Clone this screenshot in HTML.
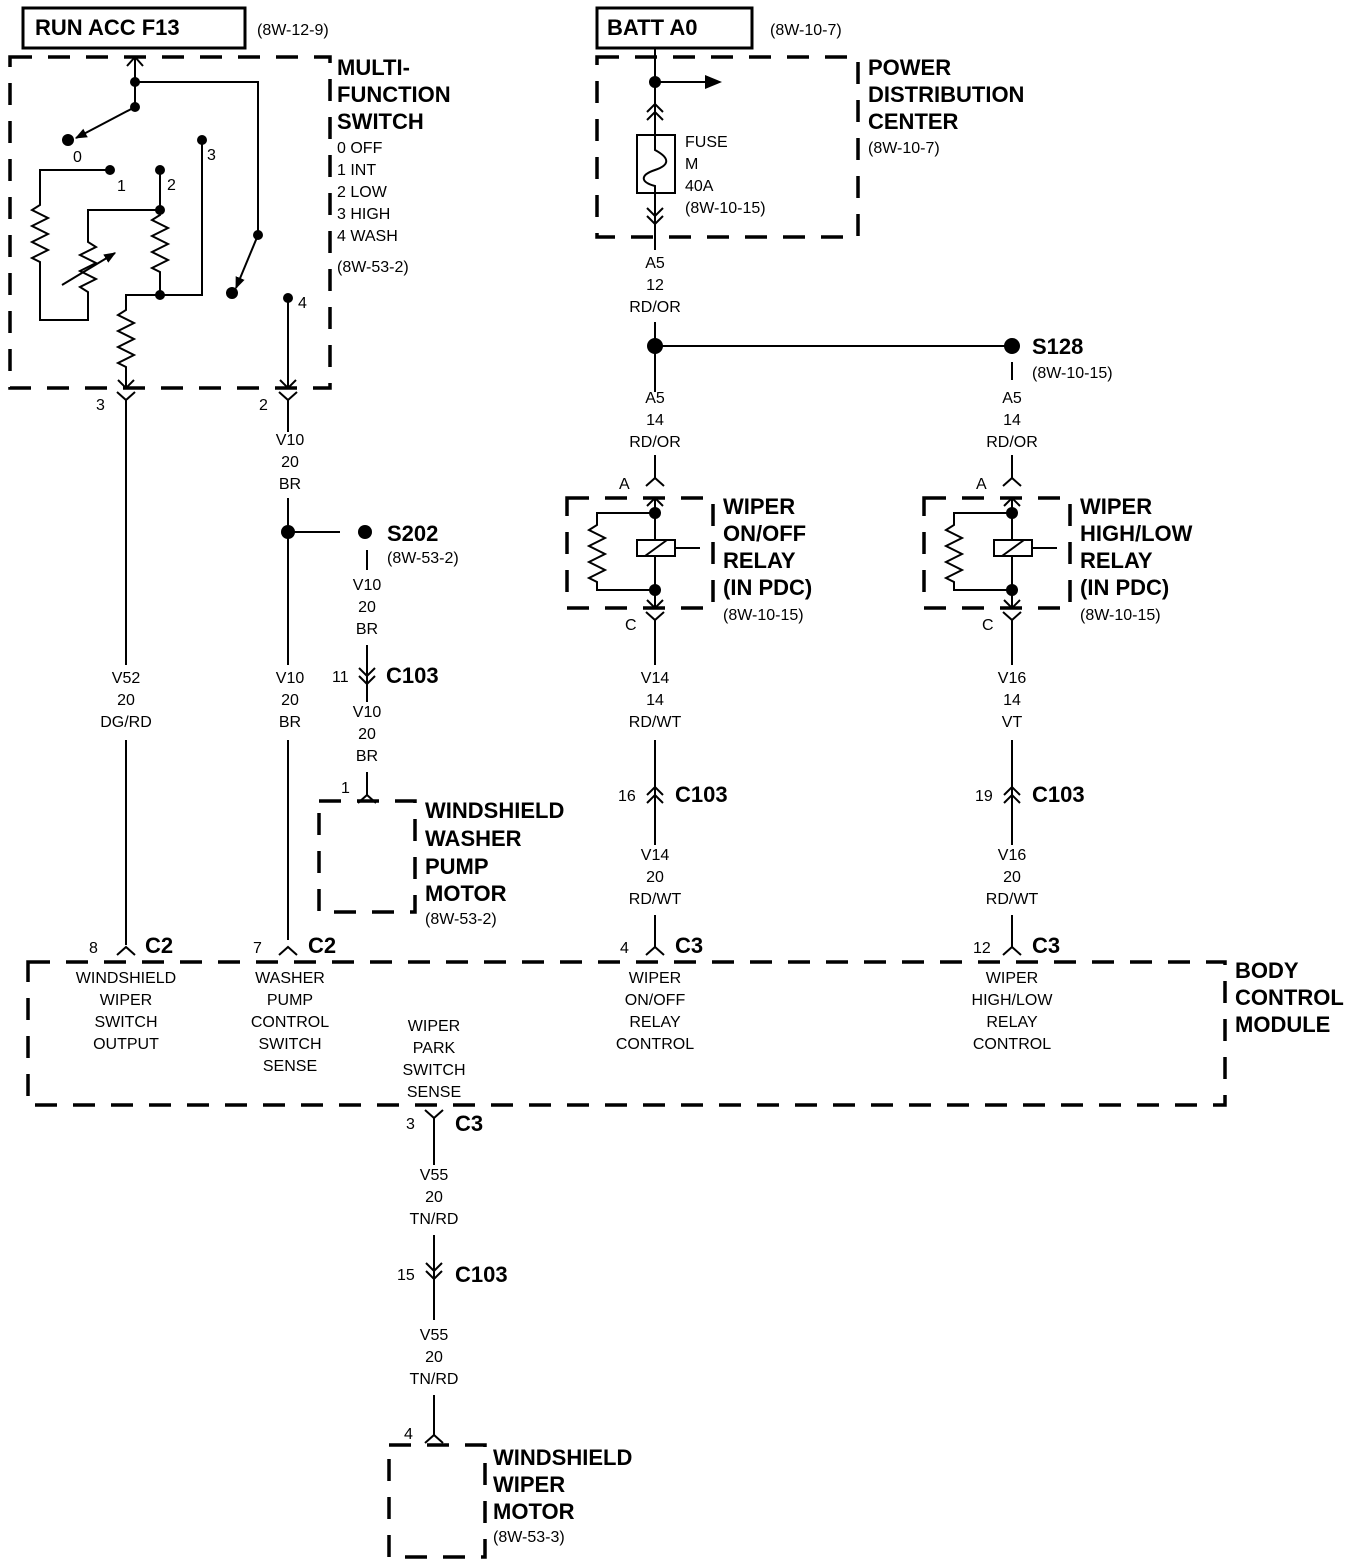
<!DOCTYPE html>
<html><head><meta charset="utf-8"><style>
html,body{margin:0;padding:0;background:#fff}
svg{display:block}
text{font-family:"Liberation Sans",sans-serif;fill:#000}
.s{font-size:16px}
.b{font-size:22px;font-weight:bold}
.m{text-anchor:middle}
</style></head><body>
<svg width="1360" height="1566" viewBox="0 0 1360 1566" xmlns="http://www.w3.org/2000/svg">
<defs>
<g id="Y"><path d="M-9,-8 L0,0 L9,-8" fill="none" stroke="#000" stroke-width="2"/></g>
<g id="L"><path d="M-9,8 L0,0 L9,8" fill="none" stroke="#000" stroke-width="2"/></g>
<marker id="ar" viewBox="0 0 10 10" refX="9" refY="5" markerWidth="6" markerHeight="6" orient="auto" markerUnits="strokeWidth"><path d="M0,1 L10,5 L0,9 Z" fill="#000"/></marker>
</defs>
<g fill="none" stroke="#000" stroke-width="2">
<rect x="23" y="8" width="222" height="40" stroke-width="3"/>
<rect x="597" y="8" width="155" height="40" stroke-width="3"/>
<g stroke-width="3.5" stroke-dasharray="22,16">
<rect x="10" y="57" width="320" height="331"/>
<rect x="597" y="57" width="261" height="180"/>
<rect x="567" y="498" width="146" height="110"/>
<rect x="924" y="498" width="146" height="110"/>
<rect x="319" y="801" width="96" height="111"/>
<rect x="28" y="962" width="1197" height="143"/>
<rect x="389" y="1445" width="96" height="112"/>
</g>
<path d="M135,57 V107"/><path d="M127,66 L135,57 L143,66"/>
<path d="M135,82 H258 V235"/>
<path d="M135,107 L76,138" marker-end="url(#ar)"/><path d="M258,235 L236,288" marker-end="url(#ar)"/>
<path d="M110,170 H40 V205 l-8,5 16,8 -16,8 16,8 -16,8 16,8 -16,8 8,4 V320 H88 V292 l-8,-5 16,-8 -16,-8 16,-8 -16,-8 16,-8 -8,-5 V210 H160"/>
<path d="M62,285 L115,253" marker-end="url(#ar)"/>
<path d="M160,170 V210 V215 l-8,5 16,8 -16,8 16,8 -16,8 16,8 -16,8 8,4 V295 H202 V140"/>
<path d="M160,295 H126 V310 l-8,5 16,8 -16,8 16,8 -16,8 16,8 -16,8 8,4 V388"/>
<path d="M118,380 L126,388 L134,380"/>
<path d="M288,298 V388"/><path d="M280,380 L288,388 L296,380"/>
<path d="M126,400 V665"/><path d="M126,740 V945"/><use href="#Y" x="126" y="400"/>
<path d="M288,400 V432"/><use href="#Y" x="288" y="400"/>
<path d="M288,498 V665"/><path d="M288,740 V940"/>
<path d="M288,532 H340"/>
<path d="M367,550 V570"/><path d="M367,645 V690"/>
<path d="M359,668 L367,676 L375,668"/><path d="M359,676 L367,684 L375,676"/>
<path d="M367,684 V702"/>
<path d="M367,772 V795"/><use href="#L" x="367" y="795"/>
<use href="#L" x="126" y="947"/><use href="#L" x="288" y="947"/>
<use href="#L" x="655" y="947"/><use href="#L" x="1012" y="947"/>
<path d="M655,48 V135"/><path d="M655,82 H705"/>
<path d="M647,112 L655,104 L663,112"/><path d="M647,120 L655,112 L663,120"/>
<rect x="637" y="135" width="38" height="58"/>
<path d="M655,135 V150 C670,158 670,165 655,170 C640,175 640,182 655,186 V193"/>
<path d="M655,193 V250"/>
<path d="M647,208 L655,216 L663,208"/><path d="M647,216 L655,224 L663,216"/>
<path d="M655,322 V392"/><path d="M655,346 H1012"/>
<path d="M1012,362 V380"/>
<path d="M655,455 V478"/><use href="#L" x="655" y="478"/>
<path d="M1012,455 V478"/><use href="#L" x="1012" y="478"/>
<g id="relay">
<path d="M655,498 V608"/><path d="M647,506 L655,498 L663,506"/><path d="M647,600 L655,608 L663,600"/>
<path d="M655,513 H597 V525 l-8,5 16,8 -16,8 16,8 -16,8 16,8 -16,8 8,4 V590 H655"/>
<rect x="637" y="540" width="38" height="16" fill="#fff"/>
<path d="M645,556 L667,540"/><path d="M675,548 H700"/>
<path d="M655,620 V665"/><use href="#Y" x="655" y="620"/>
<path d="M655,740 V845"/>
<path d="M647,795 L655,787 L663,795"/><path d="M647,803 L655,795 L663,803"/>
<path d="M655,915 V947"/>
</g>
<use href="#relay" x="357"/>
<path d="M434,1118 V1165"/><use href="#Y" x="434" y="1118"/>
<path d="M434,1235 V1320"/>
<path d="M426,1263 L434,1271 L442,1263"/><path d="M426,1271 L434,1279 L442,1271"/>
<path d="M434,1395 V1435"/><use href="#L" x="434" y="1435"/>
</g>
<path d="M705,75 L722,82 L705,89 Z"/>
<g fill="#000">
<circle cx="135" cy="82" r="5"/><circle cx="135" cy="107" r="5"/>
<circle cx="68" cy="140" r="6"/><circle cx="110" cy="170" r="5"/>
<circle cx="160" cy="170" r="5"/><circle cx="202" cy="140" r="5"/>
<circle cx="160" cy="210" r="5"/><circle cx="160" cy="295" r="5"/>
<circle cx="258" cy="235" r="5"/><circle cx="232" cy="293" r="6"/>
<circle cx="288" cy="298" r="5"/>
<circle cx="288" cy="532" r="7"/><circle cx="365" cy="532" r="7"/>
<circle cx="655" cy="82" r="6"/>
<circle cx="655" cy="346" r="8"/><circle cx="1012" cy="346" r="8"/>
<circle cx="655" cy="513" r="6"/><circle cx="655" cy="590" r="6"/>
<circle cx="1012" cy="513" r="6"/><circle cx="1012" cy="590" r="6"/>
</g>
<text class="b" x="35" y="35">RUN ACC F13</text>
<text class="s" x="257" y="35">(8W-12-9)</text>
<text class="b" x="607" y="35">BATT A0</text>
<text class="s" x="770" y="35">(8W-10-7)</text>
<g class="b"><text x="337" y="75">MULTI-</text><text x="337" y="102">FUNCTION</text><text x="337" y="129">SWITCH</text></g>
<g class="s"><text x="337" y="153">0 OFF</text><text x="337" y="175">1 INT</text><text x="337" y="197">2 LOW</text><text x="337" y="219">3 HIGH</text><text x="337" y="241">4 WASH</text><text x="337" y="272">(8W-53-2)</text>
<text x="73" y="162">0</text><text x="117" y="191">1</text><text x="167" y="190">2</text><text x="207" y="160">3</text><text x="298" y="308">4</text>
<text x="96" y="410">3</text><text x="259" y="410">2</text></g>
<g class="s m">
<text x="290" y="445">V10</text><text x="290" y="467">20</text><text x="290" y="489">BR</text>
<text x="126" y="683">V52</text><text x="126" y="705">20</text><text x="126" y="727">DG/RD</text>
<text x="290" y="683">V10</text><text x="290" y="705">20</text><text x="290" y="727">BR</text>
<text x="367" y="590">V10</text><text x="367" y="612">20</text><text x="367" y="634">BR</text>
<text x="367" y="717">V10</text><text x="367" y="739">20</text><text x="367" y="761">BR</text>
<text x="655" y="268">A5</text><text x="655" y="290">12</text><text x="655" y="312">RD/OR</text>
<text x="655" y="403">A5</text><text x="655" y="425">14</text><text x="655" y="447">RD/OR</text>
<text x="1012" y="403">A5</text><text x="1012" y="425">14</text><text x="1012" y="447">RD/OR</text>
<text x="655" y="683">V14</text><text x="655" y="705">14</text><text x="655" y="727">RD/WT</text>
<text x="1012" y="683">V16</text><text x="1012" y="705">14</text><text x="1012" y="727">VT</text>
<text x="655" y="860">V14</text><text x="655" y="882">20</text><text x="655" y="904">RD/WT</text>
<text x="1012" y="860">V16</text><text x="1012" y="882">20</text><text x="1012" y="904">RD/WT</text>
<text x="434" y="1180">V55</text><text x="434" y="1202">20</text><text x="434" y="1224">TN/RD</text>
<text x="434" y="1340">V55</text><text x="434" y="1362">20</text><text x="434" y="1384">TN/RD</text>
<text x="126" y="983">WINDSHIELD</text><text x="126" y="1005">WIPER</text><text x="126" y="1027">SWITCH</text><text x="126" y="1049">OUTPUT</text>
<text x="290" y="983">WASHER</text><text x="290" y="1005">PUMP</text><text x="290" y="1027">CONTROL</text><text x="290" y="1049">SWITCH</text><text x="290" y="1071">SENSE</text>
<text x="434" y="1031">WIPER</text><text x="434" y="1053">PARK</text><text x="434" y="1075">SWITCH</text><text x="434" y="1097">SENSE</text>
<text x="655" y="983">WIPER</text><text x="655" y="1005">ON/OFF</text><text x="655" y="1027">RELAY</text><text x="655" y="1049">CONTROL</text>
<text x="1012" y="983">WIPER</text><text x="1012" y="1005">HIGH/LOW</text><text x="1012" y="1027">RELAY</text><text x="1012" y="1049">CONTROL</text>
</g>
<g class="s">
<text x="685" y="147">FUSE</text><text x="685" y="169">M</text><text x="685" y="191">40A</text><text x="685" y="213">(8W-10-15)</text>
<text x="868" y="153">(8W-10-7)</text>
<text x="1032" y="378">(8W-10-15)</text>
<text x="387" y="563">(8W-53-2)</text>
<text x="619" y="489">A</text><text x="976" y="489">A</text>
<text x="625" y="630">C</text><text x="982" y="630">C</text>
<text x="723" y="620">(8W-10-15)</text><text x="1080" y="620">(8W-10-15)</text>
<text x="332" y="682">11</text>
<text x="341" y="793">1</text>
<text x="425" y="924">(8W-53-2)</text>
<text x="618" y="801">16</text><text x="975" y="801">19</text>
<text x="89" y="953">8</text><text x="253" y="953">7</text><text x="620" y="953">4</text><text x="973" y="953">12</text>
<text x="406" y="1129">3</text>
<text x="397" y="1280">15</text>
<text x="404" y="1439">4</text>
<text x="493" y="1542">(8W-53-3)</text>
</g>
<g class="b">
<text x="868" y="75">POWER</text><text x="868" y="102">DISTRIBUTION</text><text x="868" y="129">CENTER</text>
<text x="1032" y="354">S128</text>
<text x="387" y="541">S202</text>
<text x="386" y="683">C103</text>
<text x="675" y="802">C103</text><text x="1032" y="802">C103</text>
<text x="723" y="514">WIPER</text><text x="723" y="541">ON/OFF</text><text x="723" y="568">RELAY</text><text x="723" y="595">(IN PDC)</text>
<text x="1080" y="514">WIPER</text><text x="1080" y="541">HIGH/LOW</text><text x="1080" y="568">RELAY</text><text x="1080" y="595">(IN PDC)</text>
<text x="425" y="818">WINDSHIELD</text><text x="425" y="846">WASHER</text><text x="425" y="874">PUMP</text><text x="425" y="901">MOTOR</text>
<text x="145" y="953">C2</text><text x="308" y="953">C2</text><text x="675" y="953">C3</text><text x="1032" y="953">C3</text>
<text x="1235" y="978">BODY</text><text x="1235" y="1005">CONTROL</text><text x="1235" y="1032">MODULE</text>
<text x="455" y="1131">C3</text>
<text x="455" y="1282">C103</text>
<text x="493" y="1465">WINDSHIELD</text><text x="493" y="1492">WIPER</text><text x="493" y="1519">MOTOR</text>
</g>
</svg>
</body></html>
